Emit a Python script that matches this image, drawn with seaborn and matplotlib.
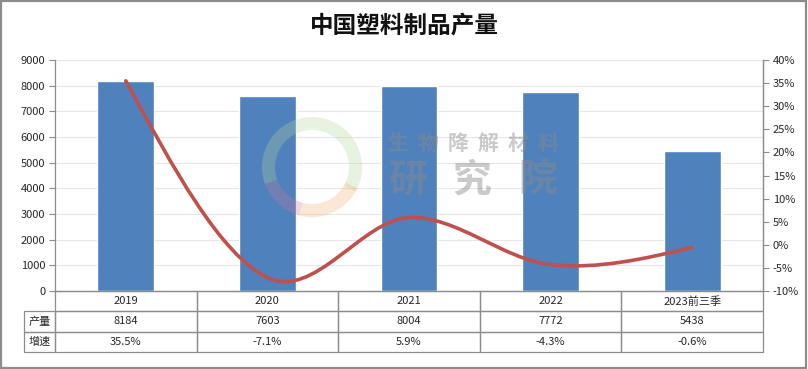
import numpy as np
import matplotlib
matplotlib.use("Agg")
import matplotlib.pyplot as plt
import matplotlib.transforms as mtransforms
import seaborn as sns
from matplotlib.path import Path
from matplotlib.patches import PathPatch, Rectangle, Wedge

# data
years = ["2019", "2020", "2021", "2022", "2023前三季"]
output = [8184, 7603, 8004, 7772, 5438]
growth = [35.5, -7.1, 5.9, -4.3, -0.6]
output_labels = ["8184", "7603", "8004", "7772", "5438"]
growth_labels = ["35.5%", "-7.1%", "5.9%", "-4.3%", "-0.6%"]

sns.set_style("white")
plt.rcParams['font.family'] = ['Noto Sans CJK SC', 'DejaVu Sans']
plt.rcParams['axes.unicode_minus'] = False

W, H = 808, 369
fig = plt.figure(figsize=(W / 100, H / 100), dpi=100)
ax = fig.add_axes([55 / W, (H - 291) / H, 708 / W, 231 / H])

bar_color = "#4F81BD"
line_color = "#C0504D"
axis_gray = "#8C8C8C"

# bars
sns.barplot(x=years, y=output, color=bar_color, width=0.4, saturation=1, ax=ax, zorder=2)
ax.set_xlim(-0.5, 4.5)
ax.set_ylim(0, 9000)
ax.set_yticks(range(0, 9001, 1000))
ax.yaxis.grid(True, color="#E6E6E6", linewidth=0.8, zorder=0)
ax.set_axisbelow(True)
ax.set_xticks([])
ax.set_xlabel("")
ax.tick_params(axis="y", direction="out", length=4, width=0.8, color=axis_gray,
               labelsize=8, pad=3)
ax.spines["top"].set_visible(False)
for s in ["left", "right", "bottom"]:
    ax.spines[s].set_color(axis_gray)
    ax.spines[s].set_linewidth(0.9)

# growth line on secondary axis (smoothed like the spreadsheet chart)
ax2 = ax.twinx()
ax2.set_ylim(-10, 40)
ax2.set_yticks(range(-10, 41, 5))
ax2.set_yticklabels([f"{v}%" for v in range(-10, 41, 5)])
ax2.tick_params(axis="y", direction="out", length=4, width=0.8, color=axis_gray,
                labelsize=8, pad=3)
for s in ["top", "left", "bottom"]:
    ax2.spines[s].set_visible(False)
ax2.spines["right"].set_color(axis_gray)
ax2.spines["right"].set_linewidth(0.9)
ax2.set_xlim(-0.5, 4.5)

# bezier smoothing: catmull-rom tangents inside, natural ends
pts = np.column_stack([np.arange(len(growth)), growth]).astype(float)
n = len(pts)
t = 1 / 6
segs = []
for i in range(n - 1):
    p1, p2 = pts[i], pts[i + 1]
    c1 = p1 + (p2 - pts[i - 1]) * t if i > 0 else None
    c2 = p2 - (pts[i + 2] - p1) * t if i + 2 < n else None
    segs.append([p1, c1, c2, p2])
segs[0][1] = (segs[0][0] + segs[0][2]) / 2
segs[-1][2] = (segs[-1][3] + segs[-1][1]) / 2
verts = [tuple(pts[0])]
codes = [Path.MOVETO]
for p1, c1, c2, p2 in segs:
    verts += [tuple(c1), tuple(c2), tuple(p2)]
    codes += [Path.CURVE4] * 3
ax2.add_patch(PathPatch(Path(verts, codes), facecolor="none", edgecolor=line_color,
                        linewidth=2.6, capstyle="round", joinstyle="round", zorder=5))

# data table under the plot
cell_text = [["产量"] + output_labels, ["增速"] + growth_labels]
col_labels = [""] + years
lw = 31
cw = 708 / 5
total = lw + 708
tbl = ax.table(cellText=cell_text, colLabels=col_labels, cellLoc="center",
               colWidths=[lw / total] + [cw / total] * 5,
               bbox=[-lw / 708, -61 / 231, total / 708, 61 / 231])
tbl.auto_set_font_size(False)
tbl.set_fontsize(8)
for (r, c), cell in tbl.get_celld().items():
    cell.set_edgecolor(axis_gray)
    cell.set_linewidth(0.9)
    cell.set_facecolor("none")
tbl[(0, 0)].visible_edges = "open"

# title
fig.text(0.5, 1 - 26 / H, "中国塑料制品产量", ha="center", va="center",
         fontsize=17, fontweight="bold", color="#111111")

# faint watermark (pixel coordinates)
px = mtransforms.IdentityTransform()
ring_parts = [(-30, 200, "#B5D69A"), (200, 255, "#C77A9A"), (255, 335, "#F2B27A")]
for a0, a1, col in ring_parts:
    fig.patches.append(Wedge((312, H - 167), 50, a0, a1, width=13, transform=px,
                             facecolor=col, alpha=0.3, edgecolor="none", zorder=10))
for i, ch in enumerate("生物降解材料"):
    fig.text((398 + i * 30) / W, 1 - 143 / H, ch, ha="center", va="center",
             fontsize=15, fontweight="bold", color="#8A8A8A", alpha=0.45, zorder=11)
for xc, ch in zip([408, 472, 538], "研究院"):
    fig.text(xc / W, 1 - 180 / H, ch, ha="center", va="center",
             fontsize=28, fontweight="bold", color="#8A8A8A", alpha=0.45, zorder=11)

# outer frame
fig.patches.append(Rectangle((0.001, 0.002), 0.997, 0.995, transform=fig.transFigure,
                             fill=False, edgecolor="#8C8C8C", linewidth=1.6))

fig.savefig("out.png", dpi=100)
